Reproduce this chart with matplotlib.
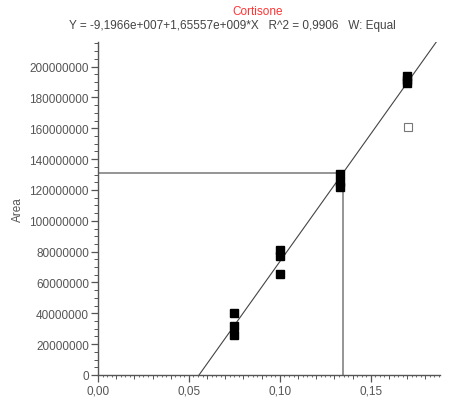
import numpy as np
import matplotlib
matplotlib.use("Agg")
import matplotlib.pyplot as plt
from matplotlib.ticker import MultipleLocator, FuncFormatter

# calibration data
amount = [0.075, 0.075, 0.075, 0.10, 0.10, 0.10, 0.1333, 0.1333, 0.1333, 0.17, 0.17, 0.17]
area = [40.5e6, 31.5e6, 26.0e6, 81.0e6, 77.0e6, 65.5e6,
        130.5e6, 125.0e6, 122.0e6, 194.0e6, 191.5e6, 189.5e6]
excluded_x = [0.1705]
excluded_y = [161.0e6]

intercept = -9.1966e7
slope = 1.65557e9
unknown_x = 0.1347

title = "Cortisone"
subtitle = "Y = -9,1966e+007+1,65557e+009*X   R^2 = 0,9906   W: Equal"

plt.rcParams['font.family'] = ['Liberation Sans', 'DejaVu Sans']

fig = plt.figure(figsize=(4.7, 4.14), dpi=100)
ax = fig.add_axes([0.2085, 0.0918, 0.7275, 0.8045])

xmax, ymax = 0.188, 216e6
ax.set_xlim(0, xmax)
ax.set_ylim(0, ymax)

# fitted line from x-intercept to right edge
x0 = -intercept / slope
lx = np.array([x0, xmax])
ax.plot(lx, intercept + slope * lx, color='#444444', lw=0.8, zorder=2)

# unknown sample read-off lines
uy = intercept + slope * unknown_x
ax.plot([0, unknown_x], [uy, uy], color='#8c8c8c', lw=1.3, zorder=1)
ax.plot([unknown_x, unknown_x], [0, uy], color='#8c8c8c', lw=1.3, zorder=1)

ax.plot(amount, area, 's', color='black', ms=5.5, zorder=3)
ax.plot(excluded_x, excluded_y, 's', mfc='white', mec='#777777', mew=0.8, ms=5.5, zorder=3)

for s in ['top', 'right']:
    ax.spines[s].set_visible(False)
for s in ['left', 'bottom']:
    ax.spines[s].set_color('#555555')
    ax.spines[s].set_linewidth(1.0)

ax.yaxis.set_major_locator(MultipleLocator(20e6))
ax.yaxis.set_minor_locator(MultipleLocator(5e6))
ax.yaxis.set_major_formatter(FuncFormatter(lambda v, p: "%d" % int(round(v))))
ax.xaxis.set_major_locator(MultipleLocator(0.05))
ax.xaxis.set_minor_locator(MultipleLocator(0.01))
ax.xaxis.set_major_formatter(FuncFormatter(lambda v, p: ("%.2f" % v).replace('.', ',')))

ax.tick_params(which='major', direction='out', length=5, width=0.9,
               color='#555555', labelcolor='#555555', labelsize=8.5, pad=1.5)
ax.tick_params(which='minor', direction='out', length=3, width=0.7, color='#555555')

# finer ticks on x axis
sec = ax.secondary_xaxis('bottom')
sec.xaxis.set_major_locator(MultipleLocator(0.0025))
sec.tick_params(direction='out', length=1.5, width=0.6, color='#555555', labelbottom=False)
sec.spines['bottom'].set_visible(False)

ax.set_ylabel("Area", color='#555555', fontsize=8.5, labelpad=4)

fig.text(0.549, 0.972, title, color='#ff3333', fontsize=8.5, ha='center', va='center')
fig.text(0.495, 0.937, subtitle, color='#444444', fontsize=8.5, ha='center', va='center')

fig.savefig("out.png", dpi=100)
